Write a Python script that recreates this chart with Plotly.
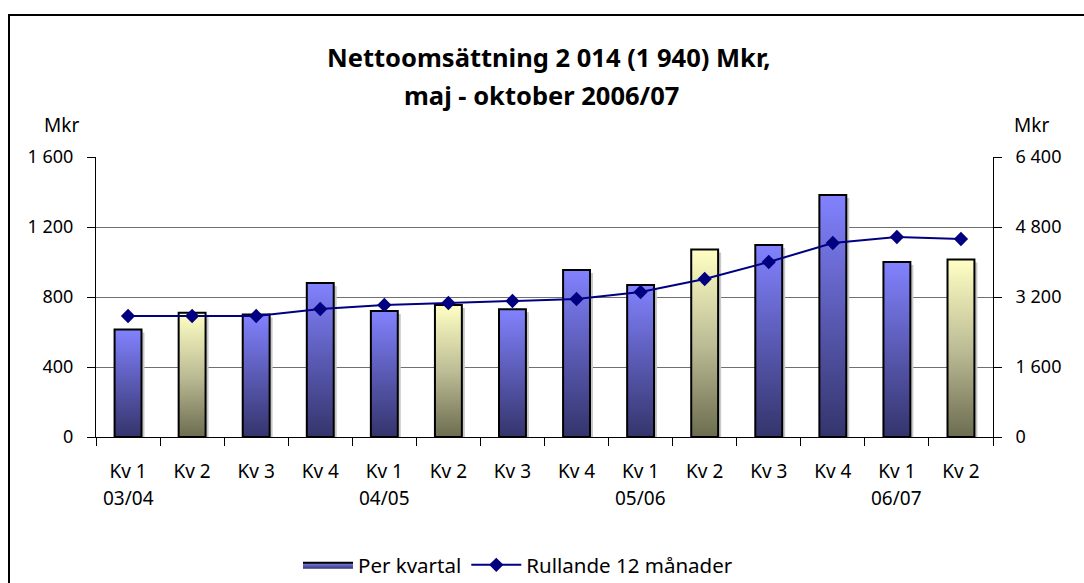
import plotly.graph_objects as go

categories = ["Kv 1", "Kv 2", "Kv 3", "Kv 4", "Kv 1", "Kv 2", "Kv 3", "Kv 4",
              "Kv 1", "Kv 2", "Kv 3", "Kv 4", "Kv 1", "Kv 2"]
years = ["03/04", "", "", "", "04/05", "", "", "", "05/06", "", "", "", "06/07", ""]
per_kvartal = [615, 710, 700, 880, 720, 755, 730, 955, 869, 1071, 1097, 1383, 1000, 1014]
rullande_12 = [2766, 2766, 2766, 2926, 3017, 3063, 3109, 3154, 3314, 3611, 4000, 4434, 4571, 4526]
left_ticks = [0, 400, 800, 1200, 1600]
left_ticktext = ["0", "400", "800", "1 200", "1 600"]
right_ticks = [0, 1600, 3200, 4800, 6400]
right_ticktext = ["0", "1 600", "3 200", "4 800", "6 400"]

title_line1 = "<b>Nettoomsättning 2 014 (1 940) Mkr,</b>"
title_line2 = "<b>maj - oktober 2006/07</b>"
FONT = "Noto Sans"

BLUE_SCALE = [[0, "#34346c"], [0.5, "#5a5ab4"], [1, "#8282ff"]]
YELLOW_SCALE = [[0, "#6c6c50"], [0.5, "#bdbd96"], [1, "#ffffc4"]]

# plot area in pixels
L, R, T, B = 96, 993, 157, 437
W, H = R - L, B - T
NCAT = len(categories)

def px_x(p):
    return (p - L) / W

def px_y(p):
    return (B - p) / H

# pixel-to-data conversions for the small drop shadow offset
dx_unit = 3 * NCAT / W
dy_unit = 3 * 1600 / H

fig = go.Figure()
half = 0.21
# shadows
for i, v in enumerate(per_kvartal):
    xs = [i - half + dx_unit, i - half + dx_unit, i + half + dx_unit, i + half + dx_unit, i - half + dx_unit]
    ys = [0, v - dy_unit, v - dy_unit, 0, 0]
    fig.add_trace(go.Scatter(
        x=xs, y=ys, mode="lines", fill="toself", fillcolor="#c8c8c8",
        line=dict(width=0, color="#c8c8c8"), showlegend=False, hoverinfo="skip",
    ))
# bars
for i, v in enumerate(per_kvartal):
    is_yellow = categories[i] == "Kv 2"
    scale = YELLOW_SCALE if is_yellow else BLUE_SCALE
    xs = [i - half, i - half, i + half, i + half, i - half]
    ys = [0, v, v, 0, 0]
    fig.add_trace(go.Scatter(
        x=xs, y=ys, mode="lines", fill="toself",
        line=dict(color="black", width=2),
        fillgradient=dict(type="vertical", colorscale=scale, start=0, stop=v),
        name="Per kvartal", legendgroup="bars",
        showlegend=(i == 0), hoverinfo="skip",
    ))

fig.add_trace(go.Scatter(
    x=list(range(NCAT)), y=rullande_12, yaxis="y2",
    mode="lines+markers", name="Rullande 12 månader",
    line=dict(color="#000080", width=2),
    marker=dict(symbol="diamond", size=11, color="#000080"),
))

annotations = [
    dict(text=title_line1, xref="paper", yref="paper", x=px_x(549), y=px_y(57),
         xanchor="center", yanchor="middle", showarrow=False,
         font=dict(size=25.5, color="black")),
    dict(text=title_line2, xref="paper", yref="paper", x=px_x(541), y=px_y(95),
         xanchor="center", yanchor="middle", showarrow=False,
         font=dict(size=25.5, color="black")),
    dict(text="Mkr", xref="paper", yref="paper", x=px_x(61), y=px_y(125),
         xanchor="center", yanchor="middle", showarrow=False, font=dict(size=19)),
    dict(text="Mkr", xref="paper", yref="paper", x=px_x(1031), y=px_y(125),
         xanchor="center", yanchor="middle", showarrow=False, font=dict(size=19)),
]
for i, yr in enumerate(years):
    if yr:
        annotations.append(dict(text=yr, xref="x", yref="paper", x=i, y=px_y(498),
                                xanchor="center", yanchor="middle", showarrow=False,
                                font=dict(size=19)))

fig.update_layout(
    width=1084, height=583,
    paper_bgcolor="white", plot_bgcolor="white",
    margin=dict(l=L, r=1084 - R, t=T, b=583 - B, autoexpand=False),
    font=dict(family=FONT, size=18, color="black"),
    showlegend=True,
    legend=dict(orientation="h", xanchor="center", x=px_x(518), yanchor="middle",
                y=px_y(565), font=dict(size=20.5), traceorder="normal",
                itemwidth=50),
    xaxis=dict(
        range=[-0.5, NCAT - 0.5], tickmode="array",
        tickvals=list(range(NCAT)), ticktext=categories,
        ticks="outside", ticklen=17, tickcolor="rgba(0,0,0,0)",
        showgrid=False, zeroline=False,
        showline=True, linecolor="black", linewidth=1,
        tickfont=dict(size=19),
        minor=dict(tickmode="array",
                   tickvals=[k - 0.5 for k in range(NCAT + 1)],
                   ticks="outside", ticklen=8, tickcolor="black", showgrid=False),
    ),
    yaxis=dict(
        range=[0, 1600], tickmode="array", tickvals=left_ticks, ticktext=left_ticktext,
        ticks="outside", ticklen=8, tickcolor="black", ticklabelstandoff=10,
        showline=True, linecolor="black", linewidth=1,
        showgrid=True, gridcolor="#707070", gridwidth=1, zeroline=False,
        tickfont=dict(size=18),
    ),
    yaxis2=dict(
        range=[0, 6400], tickmode="array", tickvals=right_ticks, ticktext=right_ticktext,
        overlaying="y", side="right",
        ticks="outside", ticklen=8, tickcolor="black", ticklabelstandoff=10,
        showline=True, linecolor="black", linewidth=1,
        showgrid=False, zeroline=False, tickfont=dict(size=18),
    ),
    annotations=annotations,
    shapes=[
        dict(type="rect", xref="paper", yref="paper",
             x0=px_x(9), x1=px_x(1095), y0=px_y(600), y1=px_y(15),
             line=dict(color="black", width=2), fillcolor="rgba(0,0,0,0)", layer="below"),
    ],
)

fig.write_html("out.html", config={"displayModeBar": False},
               post_script="document.body.style.margin='0';")
